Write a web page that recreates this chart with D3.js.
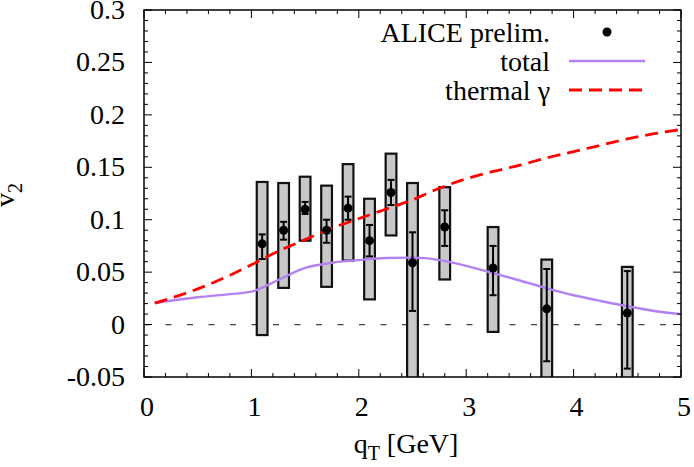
<!DOCTYPE html>
<html>
<head>
<meta charset="utf-8">
<script src="https://cdn.jsdelivr.net/npm/d3@7"></script>
<style>
  body { margin: 0; background: #fff; }
  svg text { font-family: "Liberation Serif", "Times New Roman", Tinos, Times, "DejaVu Serif", serif; fill: #000; }
</style>
</head>
<body>
<svg id="chart" width="694" height="467"></svg>
<script>
// data points (ALICE prelim.)
const qT      = [1.1, 1.3, 1.5, 1.7, 1.9, 2.1, 2.3, 2.5, 2.8, 3.25, 3.75, 4.5];
const v2      = [0.077, 0.090, 0.110, 0.090, 0.111, 0.080, 0.126, 0.059, 0.093, 0.054, 0.015, 0.011];
const statLo  = [0.0625, 0.081, 0.1055, 0.078, 0.100, 0.065, 0.114, 0.013, 0.075, 0.028, -0.035, -0.042];
const statHi  = [0.086, 0.098, 0.117, 0.100, 0.122, 0.095, 0.138, 0.088, 0.109, 0.075, 0.053, 0.051];
const sysLo   = [-0.010, 0.035, 0.080, 0.036, 0.061, 0.024, 0.085, -0.07, 0.043, -0.007, -0.07, -0.07];
const sysHi   = [0.136, 0.135, 0.141, 0.1325, 0.153, 0.120, 0.163, 0.135, 0.131, 0.093, 0.062, 0.055];

// model curves
const curveX    = [0.1, 0.5, 0.8, 1.0, 1.25, 1.5, 1.75, 2.0, 2.25, 2.5, 2.75, 3.0, 3.25, 3.5, 3.75, 4.0, 4.25, 4.5, 4.75, 5.0];
const totalV2   = [0.0205, 0.026, 0.029, 0.0314, 0.0425, 0.054, 0.059, 0.0615, 0.0635, 0.0638, 0.0615, 0.056, 0.049, 0.042, 0.0346, 0.028, 0.0225, 0.0175, 0.013, 0.010];
const thermalV2 = [0.0205, 0.034, 0.047, 0.057, 0.070, 0.081, 0.092, 0.101, 0.110, 0.119, 0.130, 0.139, 0.146, 0.152, 0.159, 0.165, 0.171, 0.177, 0.182, 0.186];

const xTicks = [0, 1, 2, 3, 4, 5];
const yTicks = [-0.05, 0, 0.05, 0.1, 0.15, 0.2, 0.25, 0.3];

const margin = {left: 144, right: 13, top: 10, bottom: 90};
const W = 694, H = 467;
const serif = "'Liberation Serif', 'Times New Roman', Tinos, Times, 'DejaVu Serif', serif";

const svg = d3.select("#chart");
const x = d3.scaleLinear().domain([0, 5]).range([margin.left, W - margin.right]);
const y = d3.scaleLinear().domain([-0.05, 0.3]).range([H - margin.bottom, margin.top]);

svg.append("clipPath").attr("id", "clip")
  .append("rect")
  .attr("x", x(0)).attr("y", y(0.3))
  .attr("width", x(5) - x(0)).attr("height", y(-0.05) - y(0.3));

const plot = svg.append("g").attr("clip-path", "url(#clip)");

// zero line
plot.append("line")
  .attr("x1", x(0)).attr("x2", x(5))
  .attr("y1", y(0)).attr("y2", y(0))
  .attr("stroke", "#444").attr("stroke-width", 1.3)
  .attr("stroke-dasharray", "6,15.5");

// systematic boxes
const bw = 0.05;
plot.selectAll(".sys").data(qT).enter().append("rect")
  .attr("class", "sys")
  .attr("x", d => x(d - bw))
  .attr("width", d => x(d + bw) - x(d - bw))
  .attr("y", (d, i) => y(sysHi[i]))
  .attr("height", (d, i) => y(sysLo[i]) - y(sysHi[i]))
  .attr("fill", "#c8c8c8").attr("stroke", "#111").attr("stroke-width", 2.2);

// curves
const line = d3.line().curve(d3.curveMonotoneX)
  .x((d, i) => x(curveX[i])).y(d => y(d));

plot.append("path").datum(totalV2)
  .attr("d", line).attr("fill", "none")
  .attr("stroke", "#b382f2").attr("stroke-width", 2.4);

plot.append("path").datum(thermalV2)
  .attr("d", line).attr("fill", "none")
  .attr("stroke", "#f00").attr("stroke-width", 2.8)
  .attr("stroke-dasharray", "13,7");

// stat error bars
const cap = 3.5;
const eb = plot.selectAll(".err").data(qT).enter().append("g").attr("class", "err");
eb.append("line")
  .attr("x1", d => x(d)).attr("x2", d => x(d))
  .attr("y1", (d, i) => y(statLo[i])).attr("y2", (d, i) => y(statHi[i]))
  .attr("stroke", "#000").attr("stroke-width", 2);
eb.append("line")
  .attr("x1", d => x(d) - cap).attr("x2", d => x(d) + cap)
  .attr("y1", (d, i) => y(statLo[i])).attr("y2", (d, i) => y(statLo[i]))
  .attr("stroke", "#000").attr("stroke-width", 2);
eb.append("line")
  .attr("x1", d => x(d) - cap).attr("x2", d => x(d) + cap)
  .attr("y1", (d, i) => y(statHi[i])).attr("y2", (d, i) => y(statHi[i]))
  .attr("stroke", "#000").attr("stroke-width", 2);
eb.append("circle")
  .attr("cx", d => x(d)).attr("cy", (d, i) => y(v2[i]))
  .attr("r", 4.5).attr("fill", "#000");

// axes: ticks inward on all four sides
const axes = svg.append("g");
const xMinor = d3.range(0, 5.001, 0.2);
const yMinor = d3.range(-0.05, 0.3001, 0.01);
xMinor.forEach(v => {
  const major = Math.abs(v - Math.round(v)) < 1e-6;
  const len = major ? 8 : 4;
  axes.append("line").attr("x1", x(v)).attr("x2", x(v))
    .attr("y1", y(-0.05)).attr("y2", y(-0.05) - len).attr("stroke", "#000");
  axes.append("line").attr("x1", x(v)).attr("x2", x(v))
    .attr("y1", y(0.3)).attr("y2", y(0.3) + len).attr("stroke", "#000");
});
yMinor.forEach(v => {
  const major = Math.abs(v / 0.05 - Math.round(v / 0.05)) < 1e-6;
  const len = major ? 8 : 4;
  axes.append("line").attr("x1", x(0)).attr("x2", x(0) + len)
    .attr("y1", y(v)).attr("y2", y(v)).attr("stroke", "#000");
  axes.append("line").attr("x1", x(5)).attr("x2", x(5) - len)
    .attr("y1", y(v)).attr("y2", y(v)).attr("stroke", "#000");
});
axes.append("rect")
  .attr("x", x(0)).attr("y", y(0.3))
  .attr("width", x(5) - x(0)).attr("height", y(-0.05) - y(0.3))
  .attr("fill", "none").attr("stroke", "#000").attr("stroke-width", 1.5);

axes.selectAll(".xl").data(xTicks).enter().append("text")
  .attr("x", d => x(d) + 3).attr("y", 416)
  .attr("text-anchor", "middle").attr("font-family", serif).style("font-size", "28px")
  .text(d => d);
axes.selectAll(".yl").data(yTicks).enter().append("text")
  .attr("x", 125).attr("y", d => y(d) + 9)
  .attr("text-anchor", "end").attr("font-family", serif).style("font-size", "28px")
  .text(d => d);

// axis titles
const xt = svg.append("text").attr("x", 406).attr("y", 453)
  .attr("text-anchor", "middle").attr("font-family", serif).style("font-size", "28px");
xt.append("tspan").text("q");
xt.append("tspan").attr("dy", 7).style("font-size", "20px").text("T");
xt.append("tspan").attr("dy", -7).text(" [GeV]");

const yt = svg.append("text")
  .attr("transform", "translate(14,195) rotate(-90)")
  .attr("text-anchor", "middle").attr("font-family", serif).style("font-size", "28px");
yt.append("tspan").text("v");
yt.append("tspan").attr("dy", 8).style("font-size", "20px").text("2");

// legend
const lg = svg.append("g").attr("font-family", serif);
lg.append("text").attr("x", 550).attr("y", 42).attr("text-anchor", "end")
  .style("font-size", "28px").text("ALICE prelim.");
lg.append("circle").attr("cx", 607).attr("cy", 32).attr("r", 4.5).attr("fill", "#000");
lg.append("text").attr("x", 550).attr("y", 71).attr("text-anchor", "end")
  .style("font-size", "28px").text("total");
lg.append("line").attr("x1", 569).attr("x2", 645).attr("y1", 61).attr("y2", 61)
  .attr("stroke", "#b382f2").attr("stroke-width", 2.4);
lg.append("text").attr("x", 550).attr("y", 100).attr("text-anchor", "end")
  .style("font-size", "28px").text("thermal γ");
lg.append("line").attr("x1", 569).attr("x2", 645).attr("y1", 90).attr("y2", 90)
  .attr("stroke", "#f00").attr("stroke-width", 2.8).attr("stroke-dasharray", "13,7");
</script>
</body>
</html>
